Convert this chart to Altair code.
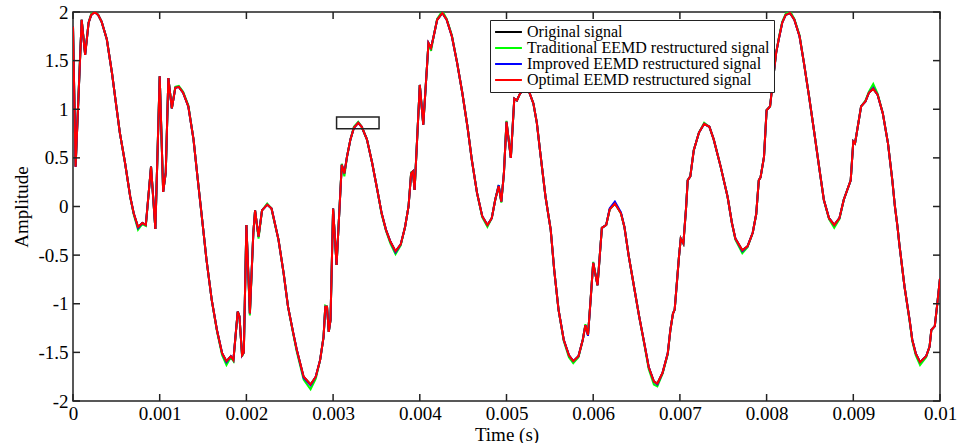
import altair as alt
import pandas as pd

# ---------------- data ----------------
time = [
    0.00000, 0.00003, 0.00010, 0.00014, 0.00018, 0.00021, 0.00025, 0.00029, 0.00033, 0.00039,
    0.00045, 0.00050, 0.00054, 0.00060, 0.00066, 0.00070, 0.00075, 0.00080, 0.00084, 0.00090,
    0.00095, 0.00100, 0.00104, 0.00107, 0.00110, 0.00114, 0.00118, 0.00122, 0.00127, 0.00133,
    0.00139, 0.00144, 0.00150, 0.00154, 0.00160, 0.00166, 0.00172, 0.00177, 0.00182, 0.00185,
    0.00190, 0.00192, 0.00195, 0.00197, 0.00200, 0.00204, 0.00208, 0.00210, 0.00214, 0.00218,
    0.00224, 0.00229, 0.00231, 0.00237, 0.00243, 0.00248, 0.00254, 0.00258, 0.00266, 0.00274,
    0.00280, 0.00285, 0.00289, 0.00291, 0.00293, 0.00295, 0.00297, 0.00300, 0.00304, 0.00310,
    0.00313, 0.00316, 0.00320, 0.00324, 0.00329, 0.00333, 0.00339, 0.00345, 0.00351, 0.00356,
    0.00361, 0.00366, 0.00372, 0.00378, 0.00383, 0.00387, 0.00390, 0.00392, 0.00394, 0.00400,
    0.00404, 0.00410, 0.00413, 0.00416, 0.00420, 0.00426, 0.00431, 0.00437, 0.00443, 0.00449,
    0.00455, 0.00460, 0.00466, 0.00472, 0.00478, 0.00483, 0.00487, 0.00491, 0.00494, 0.00497,
    0.00500, 0.00505, 0.00509, 0.00512, 0.00515, 0.00520, 0.00526, 0.00531, 0.00535, 0.00539,
    0.00545, 0.00551, 0.00555, 0.00560, 0.00566, 0.00572, 0.00577, 0.00583, 0.00588, 0.00591,
    0.00594, 0.00597, 0.00600, 0.00605, 0.00610, 0.00615, 0.00619, 0.00625, 0.00632, 0.00636,
    0.00641, 0.00647, 0.00653, 0.00659, 0.00664, 0.00670, 0.00674, 0.00680, 0.00686, 0.00689,
    0.00692, 0.00694, 0.00699, 0.00701, 0.00704, 0.00707, 0.00709, 0.00712, 0.00716, 0.00722,
    0.00728, 0.00734, 0.00739, 0.00747, 0.00755, 0.00760, 0.00764, 0.00772, 0.00778, 0.00784,
    0.00788, 0.00791, 0.00793, 0.00797, 0.00800, 0.00804, 0.00807, 0.00811, 0.00814, 0.00818,
    0.00822, 0.00827, 0.00832, 0.00838, 0.00843, 0.00849, 0.00855, 0.00861, 0.00866, 0.00872,
    0.00878, 0.00884, 0.00889, 0.00893, 0.00897, 0.00900, 0.00902, 0.00909, 0.00914, 0.00918,
    0.00923, 0.00928, 0.00934, 0.00940, 0.00945, 0.00948, 0.00951, 0.00953, 0.00959, 0.00965,
    0.00968, 0.00972, 0.00977, 0.00984, 0.00988, 0.00990, 0.00994, 0.00997, 0.01000,
]

optimal = [
    1.85, 0.41, 1.92, 1.56, 1.89, 1.97, 2.00, 1.97, 1.90, 1.72,
    1.37, 1.03, 0.76, 0.45, 0.10, -0.07, -0.21, -0.17, -0.19, 0.41,
    -0.23, 1.34, 0.15, 0.35, 1.32, 1.01, 1.22, 1.23, 1.17, 1.03,
    0.69, 0.27, -0.22, -0.55, -0.96, -1.27, -1.51, -1.59, -1.54, -1.58,
    -1.08, -1.13, -1.53, -1.50, -0.19, -1.10, -0.27, -0.04, -0.31, -0.04,
    0.02, -0.02, -0.10, -0.34, -0.69, -1.03, -1.30, -1.47, -1.75, -1.83,
    -1.75, -1.58, -1.34, -1.03, -1.03, -1.29, -1.17, -0.02, -0.60, 0.43,
    0.34, 0.51, 0.69, 0.81, 0.86, 0.82, 0.69, 0.45, 0.17, -0.07,
    -0.24, -0.36, -0.46, -0.39, -0.21, 0.00, 0.34, 0.36, 0.17, 1.25,
    0.84, 1.68, 1.63, 1.75, 1.92, 1.99, 1.92, 1.75, 1.48, 1.17,
    0.82, 0.48, 0.14, -0.10, -0.19, -0.12, 0.07, 0.21, 0.05, 0.34,
    0.87, 0.50, 1.11, 1.09, 1.15, 1.22, 1.18, 1.06, 0.86, 0.55,
    0.10, -0.24, -0.65, -1.06, -1.37, -1.53, -1.59, -1.54, -1.37, -1.22,
    -1.32, -0.96, -0.58, -0.81, -0.22, -0.19, -0.03, 0.03, -0.07, -0.21,
    -0.51, -0.82, -1.13, -1.41, -1.65, -1.80, -1.82, -1.71, -1.51, -1.27,
    -1.10, -1.06, -0.51, -0.33, -0.38, -0.03, 0.27, 0.31, 0.58, 0.76,
    0.85, 0.82, 0.69, 0.41, 0.10, -0.17, -0.33, -0.45, -0.41, -0.27,
    -0.08, 0.27, 0.30, 0.51, 0.99, 1.03, 1.27, 1.58, 1.72, 1.89,
    1.97, 1.99, 1.92, 1.75, 1.48, 1.13, 0.76, 0.38, 0.07, -0.12,
    -0.19, -0.12, 0.07, 0.17, 0.27, 0.67, 0.65, 1.03, 1.08, 1.17,
    1.21, 1.15, 0.96, 0.65, 0.27, 0.00, -0.21, -0.38, -0.82, -1.17,
    -1.37, -1.51, -1.60, -1.54, -1.44, -1.27, -1.23, -0.99, -0.74,
]

traditional = [
    1.85, 0.42, 1.92, 1.57, 1.89, 1.98, 2.01, 1.97, 1.90, 1.72,
    1.37, 1.03, 0.76, 0.45, 0.10, -0.08, -0.24, -0.18, -0.20, 0.41,
    -0.23, 1.34, 0.15, 0.35, 1.32, 1.01, 1.23, 1.24, 1.18, 1.04,
    0.69, 0.27, -0.22, -0.55, -0.96, -1.28, -1.53, -1.63, -1.55, -1.59,
    -1.08, -1.13, -1.54, -1.50, -0.19, -1.12, -0.27, -0.04, -0.33, -0.04,
    0.03, -0.02, -0.11, -0.34, -0.69, -1.03, -1.31, -1.49, -1.78, -1.88,
    -1.77, -1.58, -1.34, -1.02, -1.03, -1.29, -1.17, -0.02, -0.60, 0.44,
    0.31, 0.51, 0.69, 0.82, 0.87, 0.82, 0.69, 0.45, 0.17, -0.08,
    -0.25, -0.38, -0.49, -0.40, -0.21, 0.00, 0.35, 0.36, 0.17, 1.25,
    0.84, 1.68, 1.60, 1.75, 1.93, 2.01, 1.93, 1.76, 1.48, 1.17,
    0.82, 0.48, 0.14, -0.11, -0.21, -0.12, 0.07, 0.22, 0.04, 0.34,
    0.88, 0.50, 1.11, 1.09, 1.15, 1.23, 1.18, 1.06, 0.86, 0.55,
    0.10, -0.24, -0.65, -1.06, -1.38, -1.55, -1.61, -1.55, -1.37, -1.21,
    -1.32, -0.96, -0.57, -0.81, -0.22, -0.19, -0.03, 0.04, -0.07, -0.21,
    -0.51, -0.82, -1.13, -1.42, -1.67, -1.83, -1.85, -1.72, -1.52, -1.27,
    -1.10, -1.06, -0.51, -0.33, -0.38, -0.03, 0.27, 0.31, 0.58, 0.76,
    0.86, 0.82, 0.69, 0.41, 0.10, -0.17, -0.34, -0.48, -0.42, -0.27,
    -0.08, 0.27, 0.30, 0.51, 0.99, 1.03, 1.27, 1.58, 1.73, 1.90,
    1.98, 2.01, 1.93, 1.76, 1.48, 1.13, 0.76, 0.38, 0.07, -0.13,
    -0.22, -0.13, 0.07, 0.17, 0.27, 0.67, 0.65, 1.03, 1.09, 1.18,
    1.26, 1.16, 0.96, 0.65, 0.27, 0.00, -0.21, -0.38, -0.82, -1.18,
    -1.38, -1.53, -1.63, -1.55, -1.44, -1.27, -1.23, -0.99, -0.74,
]

improved = [
    1.85, 0.41, 1.92, 1.56, 1.89, 1.97, 2.00, 1.97, 1.90, 1.72,
    1.37, 1.03, 0.76, 0.45, 0.10, -0.07, -0.22, -0.17, -0.19, 0.41,
    -0.23, 1.34, 0.15, 0.35, 1.32, 1.01, 1.22, 1.23, 1.17, 1.03,
    0.69, 0.27, -0.22, -0.55, -0.96, -1.27, -1.51, -1.60, -1.54, -1.58,
    -1.08, -1.13, -1.53, -1.50, -0.19, -1.10, -0.27, -0.04, -0.31, -0.04,
    0.02, -0.02, -0.10, -0.34, -0.69, -1.03, -1.30, -1.47, -1.76, -1.84,
    -1.75, -1.58, -1.34, -1.03, -1.03, -1.29, -1.17, -0.02, -0.60, 0.43,
    0.34, 0.51, 0.69, 0.81, 0.86, 0.82, 0.69, 0.45, 0.17, -0.07,
    -0.24, -0.36, -0.47, -0.39, -0.21, 0.00, 0.34, 0.36, 0.17, 1.25,
    0.84, 1.68, 1.63, 1.75, 1.92, 1.99, 1.92, 1.75, 1.48, 1.17,
    0.82, 0.48, 0.14, -0.10, -0.19, -0.12, 0.07, 0.22, 0.05, 0.34,
    0.87, 0.50, 1.11, 1.09, 1.15, 1.22, 1.18, 1.06, 0.86, 0.55,
    0.10, -0.24, -0.65, -1.06, -1.37, -1.53, -1.59, -1.54, -1.37, -1.22,
    -1.33, -0.96, -0.58, -0.81, -0.22, -0.19, -0.02, 0.05, -0.06, -0.21,
    -0.51, -0.82, -1.13, -1.41, -1.65, -1.80, -1.83, -1.71, -1.51, -1.27,
    -1.10, -1.06, -0.51, -0.33, -0.38, -0.03, 0.27, 0.31, 0.58, 0.76,
    0.85, 0.82, 0.69, 0.41, 0.10, -0.17, -0.33, -0.46, -0.41, -0.27,
    -0.08, 0.27, 0.30, 0.51, 0.99, 1.03, 1.27, 1.58, 1.72, 1.89,
    1.97, 1.99, 1.92, 1.75, 1.48, 1.13, 0.76, 0.38, 0.07, -0.12,
    -0.19, -0.12, 0.07, 0.17, 0.27, 0.67, 0.65, 1.03, 1.08, 1.17,
    1.22, 1.15, 0.96, 0.65, 0.27, 0.00, -0.21, -0.38, -0.82, -1.17,
    -1.37, -1.51, -1.60, -1.54, -1.44, -1.27, -1.23, -0.99, -0.74,
]

original = [
    1.85, 0.41, 1.92, 1.56, 1.89, 1.97, 2.00, 1.97, 1.90, 1.72,
    1.37, 1.03, 0.76, 0.45, 0.10, -0.07, -0.21, -0.17, -0.19, 0.41,
    -0.23, 1.34, 0.15, 0.35, 1.32, 1.01, 1.22, 1.23, 1.17, 1.03,
    0.69, 0.27, -0.22, -0.55, -0.96, -1.27, -1.51, -1.59, -1.54, -1.58,
    -1.08, -1.13, -1.53, -1.50, -0.19, -1.10, -0.27, -0.04, -0.31, -0.04,
    0.02, -0.02, -0.10, -0.34, -0.69, -1.03, -1.30, -1.47, -1.75, -1.83,
    -1.75, -1.58, -1.34, -1.03, -1.03, -1.29, -1.17, -0.02, -0.60, 0.43,
    0.34, 0.51, 0.69, 0.81, 0.86, 0.82, 0.69, 0.45, 0.17, -0.07,
    -0.24, -0.36, -0.46, -0.39, -0.21, 0.00, 0.34, 0.36, 0.17, 1.25,
    0.84, 1.68, 1.63, 1.75, 1.92, 1.99, 1.92, 1.75, 1.48, 1.17,
    0.82, 0.48, 0.14, -0.10, -0.19, -0.12, 0.07, 0.21, 0.05, 0.34,
    0.87, 0.50, 1.11, 1.09, 1.15, 1.22, 1.18, 1.06, 0.86, 0.55,
    0.10, -0.24, -0.65, -1.06, -1.37, -1.53, -1.59, -1.54, -1.37, -1.22,
    -1.32, -0.96, -0.58, -0.81, -0.22, -0.19, -0.03, 0.03, -0.07, -0.21,
    -0.51, -0.82, -1.13, -1.41, -1.65, -1.80, -1.82, -1.71, -1.51, -1.27,
    -1.10, -1.06, -0.51, -0.33, -0.38, -0.03, 0.27, 0.31, 0.58, 0.76,
    0.85, 0.82, 0.69, 0.41, 0.10, -0.17, -0.33, -0.45, -0.41, -0.27,
    -0.08, 0.27, 0.30, 0.51, 0.99, 1.03, 1.27, 1.58, 1.72, 1.89,
    1.97, 1.99, 1.92, 1.75, 1.48, 1.13, 0.76, 0.38, 0.07, -0.12,
    -0.19, -0.12, 0.07, 0.17, 0.27, 0.67, 0.65, 1.03, 1.08, 1.17,
    1.21, 1.15, 0.96, 0.65, 0.27, 0.00, -0.21, -0.38, -0.82, -1.17,
    -1.37, -1.51, -1.60, -1.54, -1.44, -1.27, -1.23, -0.99, -0.74,
]

series_names = [
    "Original signal",
    "Traditional EEMD restructured signal",
    "Improved EEMD restructured signal",
    "Optimal EEMD restructured signal",
]
series_colors = ["#000000", "#00ff00", "#0000ff", "#ff0000"]
series_values = [original, traditional, improved, optimal]

x_ticks = [0, 0.001, 0.002, 0.003, 0.004, 0.005, 0.006, 0.007, 0.008, 0.009, 0.01]
y_ticks = [-2, -1.5, -1, -0.5, 0, 0.5, 1, 1.5, 2]

# small annotation box around the 0.0033 peak
box_t = [0.00304, 0.00353]
box_y = [0.80, 0.92]

# ---------------- build ----------------
for v in series_values:
    assert len(v) == len(time)

rows = []
for name, vals in zip(series_names, series_values):
    for t, y in zip(time, vals):
        rows.append({"t": t, "y": y, "series": name})
df = pd.DataFrame(rows)

W, H = 867, 389
FONT = "Liberation Serif"
FRAME = "#222222"
TICK = 7

xscale = alt.Scale(domain=[0, 0.01], nice=False, zero=False)
yscale = alt.Scale(domain=[-2, 2], nice=False, zero=False)

color = alt.Color(
    "series:N",
    scale=alt.Scale(domain=series_names, range=series_colors),
    legend=alt.Legend(
        title=None,
        orient="none",
        legendX=417,
        legendY=8,
        direction="vertical",
        symbolType="stroke",
        symbolSize=720,
        symbolStrokeWidth=2,
        labelFont=FONT,
        labelFontSize=16,
        labelColor="black",
        labelOffset=4,
        clipHeight=16,
        rowPadding=0,
        padding=4,
        strokeColor=FRAME,
        fillColor="white",
        labelLimit=400,
    ),
)

x_axis = alt.Axis(
    values=x_ticks,
    labelExpr="'' + datum.value",
    title="Time (s)",
    ticks=False,
    domain=False,
    grid=False,
    labelPadding=3,
    labelFlush=False,
    titleBaseline="alphabetic",
    titleY=39,
)
y_axis = alt.Axis(
    values=y_ticks,
    labelExpr="'' + datum.value",
    title="Amplitude",
    ticks=False,
    domain=False,
    grid=False,
    labelPadding=5,
    labelFlush=False,
    titleBaseline="alphabetic",
    titleX=-46,
)

layers = []
for name in series_names:
    layers.append(
        alt.Chart(df[df["series"] == name])
        .mark_line(strokeWidth=2, clip=True)
        .encode(
            x=alt.X("t:Q", scale=xscale, axis=x_axis),
            y=alt.Y("y:Q", scale=yscale, axis=y_axis),
            color=color,
        )
    )

box_df = pd.DataFrame({"t0": [box_t[0]], "t1": [box_t[1]], "y0": [box_y[0]], "y1": [box_y[1]]})
box = alt.Chart(box_df).mark_rect(fillOpacity=0, stroke=FRAME, strokeWidth=1.5).encode(
    x=alt.X("t0:Q", scale=xscale, axis=x_axis),
    x2="t1:Q",
    y=alt.Y("y0:Q", scale=yscale, axis=y_axis),
    y2="y1:Q",
)

xt = pd.DataFrame({"v": x_ticks})
yt = pd.DataFrame({"v": y_ticks})
tick_style = dict(color=FRAME, strokeWidth=1.5)
bottom_ticks = alt.Chart(xt).mark_rule(**tick_style).encode(
    x=alt.X("v:Q", scale=xscale, axis=x_axis), y=alt.value(H), y2=alt.value(H - TICK)
)
top_ticks = alt.Chart(xt).mark_rule(**tick_style).encode(
    x=alt.X("v:Q", scale=xscale, axis=x_axis), y=alt.value(0), y2=alt.value(TICK)
)
left_ticks = alt.Chart(yt).mark_rule(**tick_style).encode(
    y=alt.Y("v:Q", scale=yscale, axis=y_axis), x=alt.value(0), x2=alt.value(TICK)
)
right_ticks = alt.Chart(yt).mark_rule(**tick_style).encode(
    y=alt.Y("v:Q", scale=yscale, axis=y_axis), x=alt.value(W), x2=alt.value(W - TICK)
)

chart = (
    alt.layer(*layers, box, bottom_ticks, top_ticks, left_ticks, right_ticks)
    .properties(
        width=W,
        height=H,
        padding={"left": 73, "top": 12, "right": 18, "bottom": 42},
        autosize=alt.AutoSizeParams(type="none"),
        background="white",
    )
    .configure_view(stroke=FRAME, strokeWidth=1.5)
    .configure_axis(
        labelFont=FONT,
        titleFont=FONT,
        labelFontSize=19,
        titleFontSize=19,
        labelColor="black",
        titleColor="black",
        titleFontWeight="normal",
    )
)

chart.save("out.html", embed_options={"renderer": "svg", "actions": False})
